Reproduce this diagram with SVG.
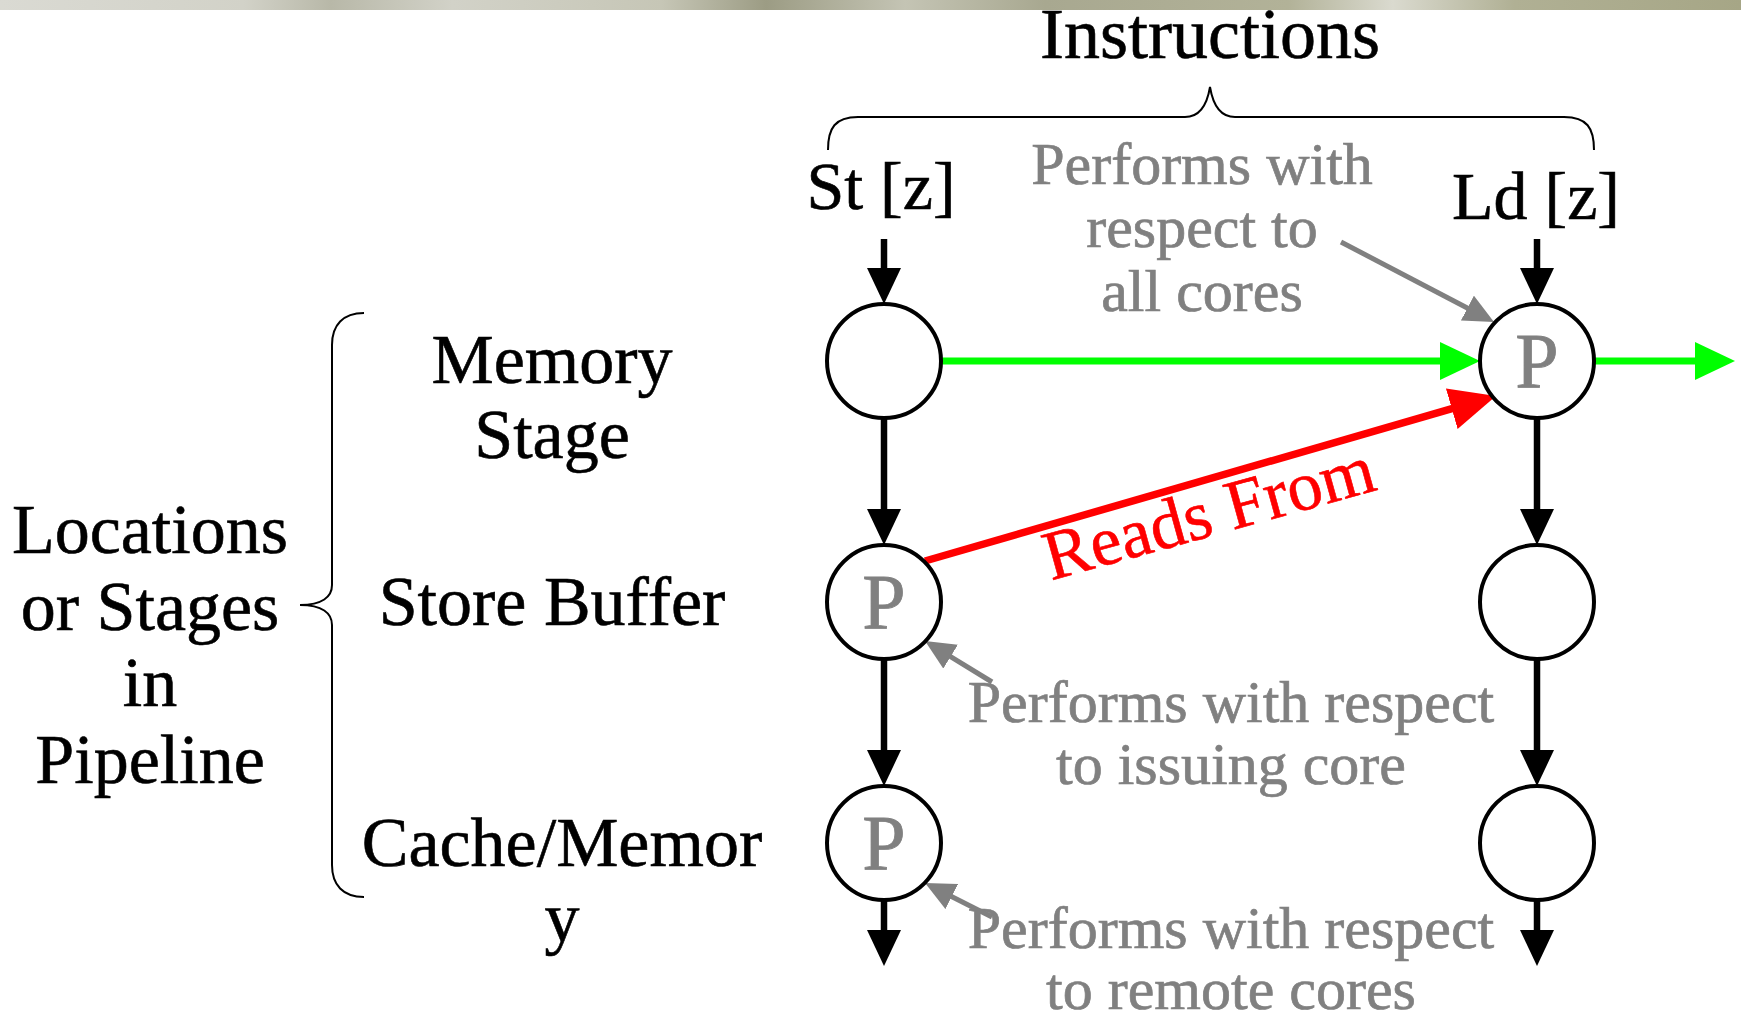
<svg xmlns="http://www.w3.org/2000/svg" width="1741" height="1019" viewBox="0 0 1741 1019">
  <style>
    .lbl { font-family: "Liberation Serif", "Times New Roman", serif; fill: #000; stroke: #000; stroke-width: 0.6; text-anchor: middle; }
    .big { font-size: 70px; }
    .note { font-family: "Liberation Serif", "Times New Roman", serif; fill: #808080; stroke: #808080; stroke-width: 0.7; font-size: 60px; text-anchor: middle; }
    .pmark { font-family: "Liberation Serif", "Times New Roman", serif; fill: #808080; stroke: #808080; stroke-width: 0.8; font-size: 78px; text-anchor: middle; }
    .rlabel { font-family: "Liberation Serif", "Times New Roman", serif; fill: #ff0000; stroke: #ff0000; stroke-width: 0.6; font-size: 70px; text-anchor: middle; }
    .node { fill: #fff; stroke: #000; stroke-width: 4; }
    .brace { fill: none; stroke: #000; stroke-width: 2; }
    .flow { stroke: #000; stroke-width: 6.5; fill: none; }
    .po { stroke: #00ff00; stroke-width: 7; fill: none; }
    .rf { stroke: #ff0000; stroke-width: 7.5; fill: none; }
    .ptr { stroke: #808080; stroke-width: 5; fill: none; }
  </style>
  <defs>
    <linearGradient id="band" x1="0" y1="0" x2="1" y2="0">
      <stop offset="0" stop-color="#dadad3"/>
      <stop offset="0.14" stop-color="#d2d2c8"/>
      <stop offset="0.19" stop-color="#b8b8a8"/>
      <stop offset="0.26" stop-color="#d2d2c8"/>
      <stop offset="0.38" stop-color="#c6c6b6"/>
      <stop offset="0.44" stop-color="#9c9c84"/>
      <stop offset="0.52" stop-color="#c4c4b4"/>
      <stop offset="0.6" stop-color="#a8a890"/>
      <stop offset="0.74" stop-color="#b2b298"/>
      <stop offset="0.8" stop-color="#dadacf"/>
      <stop offset="0.87" stop-color="#b0b094"/>
      <stop offset="1" stop-color="#a6a686"/>
    </linearGradient>
    <marker id="headBlack" markerUnits="userSpaceOnUse" viewBox="0 -17 36 34" markerWidth="36" markerHeight="34" refX="2" refY="0" orient="auto">
      <path d="M0,-17 L36,0 L0,17 Z" fill="#000"/>
    </marker>
    <marker id="headGreen" markerUnits="userSpaceOnUse" viewBox="0 -19 40 38" markerWidth="40" markerHeight="38" refX="2" refY="0" orient="auto">
      <path d="M0,-19 L40,0 L0,19 Z" fill="#00ff00"/>
    </marker>
    <marker id="headRed" markerUnits="userSpaceOnUse" viewBox="0 -21 46 42" markerWidth="46" markerHeight="42" refX="2" refY="0" orient="auto">
      <path d="M0,-21 L46,0 L0,21 Z" fill="#ff0000"/>
    </marker>
    <marker id="headGray" markerUnits="userSpaceOnUse" viewBox="0 -14 30 28" markerWidth="30" markerHeight="28" refX="2" refY="0" orient="auto">
      <path d="M0,-14 L30,0 L0,14 Z" fill="#808080"/>
    </marker>
  </defs>

  <!-- textured header band -->
  <rect x="0" y="0" width="1741" height="10" fill="url(#band)"/>

  <!-- headings and row labels -->
  <text class="lbl" x="1210" y="58" font-size="72">Instructions</text>
  <path class="brace" d="M828,150 C828,128 835,117 858,117 L1185,117 C1200,117 1207,105 1210,87 C1213,105 1220,117 1235,117 L1564,117 C1587,117 1594,128 1594,150"/>
  <text class="lbl" x="881" y="209" font-size="68">St [z]</text>
  <text class="lbl" x="1536" y="219" font-size="68">Ld [z]</text>

  <text class="lbl big" x="150" y="553">Locations</text>
  <text class="lbl big" x="150" y="630">or Stages</text>
  <text class="lbl big" x="150" y="706">in</text>
  <text class="lbl big" x="150" y="783">Pipeline</text>
  <path class="brace" d="M364,313 C343,313 332,325 332,345 L332,585 C332,597 322,605 300,605 C322,605 332,613 332,625 L332,865 C332,885 343,897 364,897"/>

  <text class="lbl big" x="552" y="383">Memory</text>
  <text class="lbl big" x="552" y="458">Stage</text>
  <text class="lbl big" x="552" y="625">Store Buffer</text>
  <text class="lbl big" x="562" y="866">Cache/Memor</text>
  <text class="lbl big" x="562" y="941">y</text>

  <!-- connectors -->
  <g id="connectors">
    <line class="flow" x1="884" y1="239" x2="884" y2="270" marker-end="url(#headBlack)"/>
    <line class="flow" x1="884" y1="418" x2="884" y2="511" marker-end="url(#headBlack)"/>
    <line class="flow" x1="884" y1="659" x2="884" y2="752" marker-end="url(#headBlack)"/>
    <line class="flow" x1="884" y1="900" x2="884" y2="932" marker-end="url(#headBlack)"/>
    <line class="flow" x1="1537" y1="239" x2="1537" y2="270" marker-end="url(#headBlack)"/>
    <line class="flow" x1="1537" y1="418" x2="1537" y2="511" marker-end="url(#headBlack)"/>
    <line class="flow" x1="1537" y1="659" x2="1537" y2="752" marker-end="url(#headBlack)"/>
    <line class="flow" x1="1537" y1="900" x2="1537" y2="932" marker-end="url(#headBlack)"/>

    <line class="po" x1="941" y1="361" x2="1442" y2="361" marker-end="url(#headGreen)"/>
    <line class="po" x1="1594" y1="361" x2="1697" y2="361" marker-end="url(#headGreen)"/>

    <line class="rf" x1="925" y1="561" x2="1453.7" y2="408.2" marker-end="url(#headRed)"/>

    <line class="ptr" x1="1341" y1="242" x2="1469.2" y2="309" marker-end="url(#headGray)"/>
    <line class="ptr" x1="992" y1="682" x2="948.9" y2="655.6" marker-end="url(#headGray)"/>
    <line class="ptr" x1="992" y1="917" x2="950" y2="895.7" marker-end="url(#headGray)"/>
  </g>

  <text class="rlabel" x="0" y="0" transform="translate(1215,535) rotate(-15.5)">Reads From</text>

  <!-- store column -->
  <g id="st-mem"><circle class="node" cx="884" cy="361" r="57"/></g>
  <g id="st-sb"><circle class="node" cx="884" cy="602" r="57"/><text class="pmark" x="884" y="628">P</text></g>
  <g id="st-cache"><circle class="node" cx="884" cy="843" r="57"/><text class="pmark" x="884" y="869">P</text></g>

  <!-- load column -->
  <g id="ld-mem"><circle class="node" cx="1537" cy="361" r="57"/><text class="pmark" x="1537" y="387">P</text></g>
  <g id="ld-sb"><circle class="node" cx="1537" cy="602" r="57"/></g>
  <g id="ld-cache"><circle class="node" cx="1537" cy="843" r="57"/></g>

  <!-- annotations -->
  <text class="note" x="1202" y="184">Performs with</text>
  <text class="note" x="1202" y="247">respect to</text>
  <text class="note" x="1202" y="311">all cores</text>

  <text class="note" x="1231" y="722">Performs with respect</text>
  <text class="note" x="1231" y="784">to issuing core</text>

  <text class="note" x="1231" y="948">Performs with respect</text>
  <text class="note" x="1231" y="1009">to remote cores</text>
</svg>
